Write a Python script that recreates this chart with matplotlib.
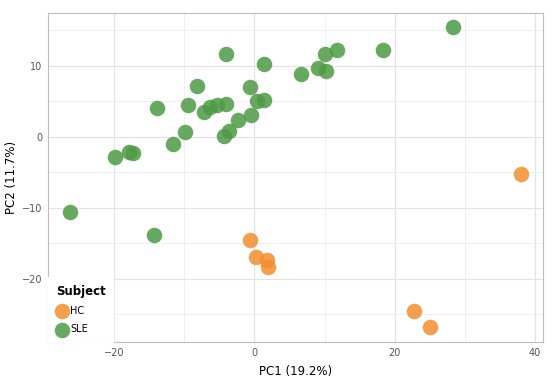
import matplotlib.pyplot as plt
from matplotlib.ticker import MultipleLocator

# PCA scores
sle_pc1 = [28.4, 18.4, 11.8, 10.1, -4.0, 1.3, 6.6, 9.1, 10.2, -8.2, -0.7, -9.5,
           -13.9, -7.2, -6.3, -5.4, -4.0, 0.3, 1.3, -0.5, -2.4, -9.9, -3.7, -4.4,
           -11.7, -19.9, -17.9, -17.4, -26.3, -14.4]
sle_pc2 = [15.4, 12.2, 12.2, 11.6, 11.6, 10.2, 8.8, 9.6, 9.3, 7.1, 7.0, 4.4,
           4.1, 3.4, 4.2, 4.5, 4.6, 5.0, 5.1, 3.0, 2.3, 0.7, 0.8, 0.1,
           -1.0, -2.8, -2.1, -2.3, -10.6, -13.8]
hc_pc1 = [-0.7, 0.2, 1.8, 1.9, 22.8, 25.1, 38.1]
hc_pc2 = [-14.5, -17.0, -17.4, -18.3, -24.5, -26.8, -5.2]

groups = ["HC", "SLE"]
colors = {"HC": "#F28E2B", "SLE": "#4E9A45"}

fig = plt.figure(figsize=(5.54, 3.82), dpi=100)
ax = fig.add_axes([0.0866, 0.1047, 0.8934, 0.8613])

ax.scatter(hc_pc1, hc_pc2, s=125, color=colors["HC"], alpha=0.85, lw=0, label="HC", zorder=3)
ax.scatter(sle_pc1, sle_pc2, s=125, color=colors["SLE"], alpha=0.85, lw=0, label="SLE", zorder=3)

ax.set_xlim(-29.5, 41.2)
ax.set_ylim(-28.9, 17.4)
ax.xaxis.set_major_locator(MultipleLocator(20))
ax.xaxis.set_minor_locator(MultipleLocator(10))
ax.yaxis.set_major_locator(MultipleLocator(10))
ax.yaxis.set_minor_locator(MultipleLocator(5))
ax.grid(which="major", color="#E3E3E3", lw=0.9, zorder=0)
ax.grid(which="minor", color="#EFEFEF", lw=0.7, zorder=0)
ax.set_axisbelow(True)
for sp in ax.spines.values():
    sp.set_color("#BDBDBD")
    sp.set_linewidth(0.8)
ax.tick_params(which="both", length=0, labelsize=7, labelcolor="#555555", pad=4)

ax.set_xlabel("PC1 (19.2%)", fontsize=8.5, labelpad=5)
ax.set_ylabel("PC2 (11.7%)", fontsize=8.5, labelpad=3)

leg = ax.legend(title="Subject", loc="lower left", bbox_to_anchor=(0, 0), frameon=True,
                fontsize=7, title_fontsize=8.5, markerscale=1.0, handletextpad=0.3,
                handlelength=1.2, borderaxespad=0, fancybox=False, borderpad=0.8,
                labelspacing=0.85)
leg.get_title().set_fontweight("bold")
leg._legend_box.align = "left"
leg.get_frame().set_edgecolor("white")
leg.get_frame().set_facecolor("white")
leg.get_frame().set_alpha(1)

fig.savefig("out.png", dpi=100)
